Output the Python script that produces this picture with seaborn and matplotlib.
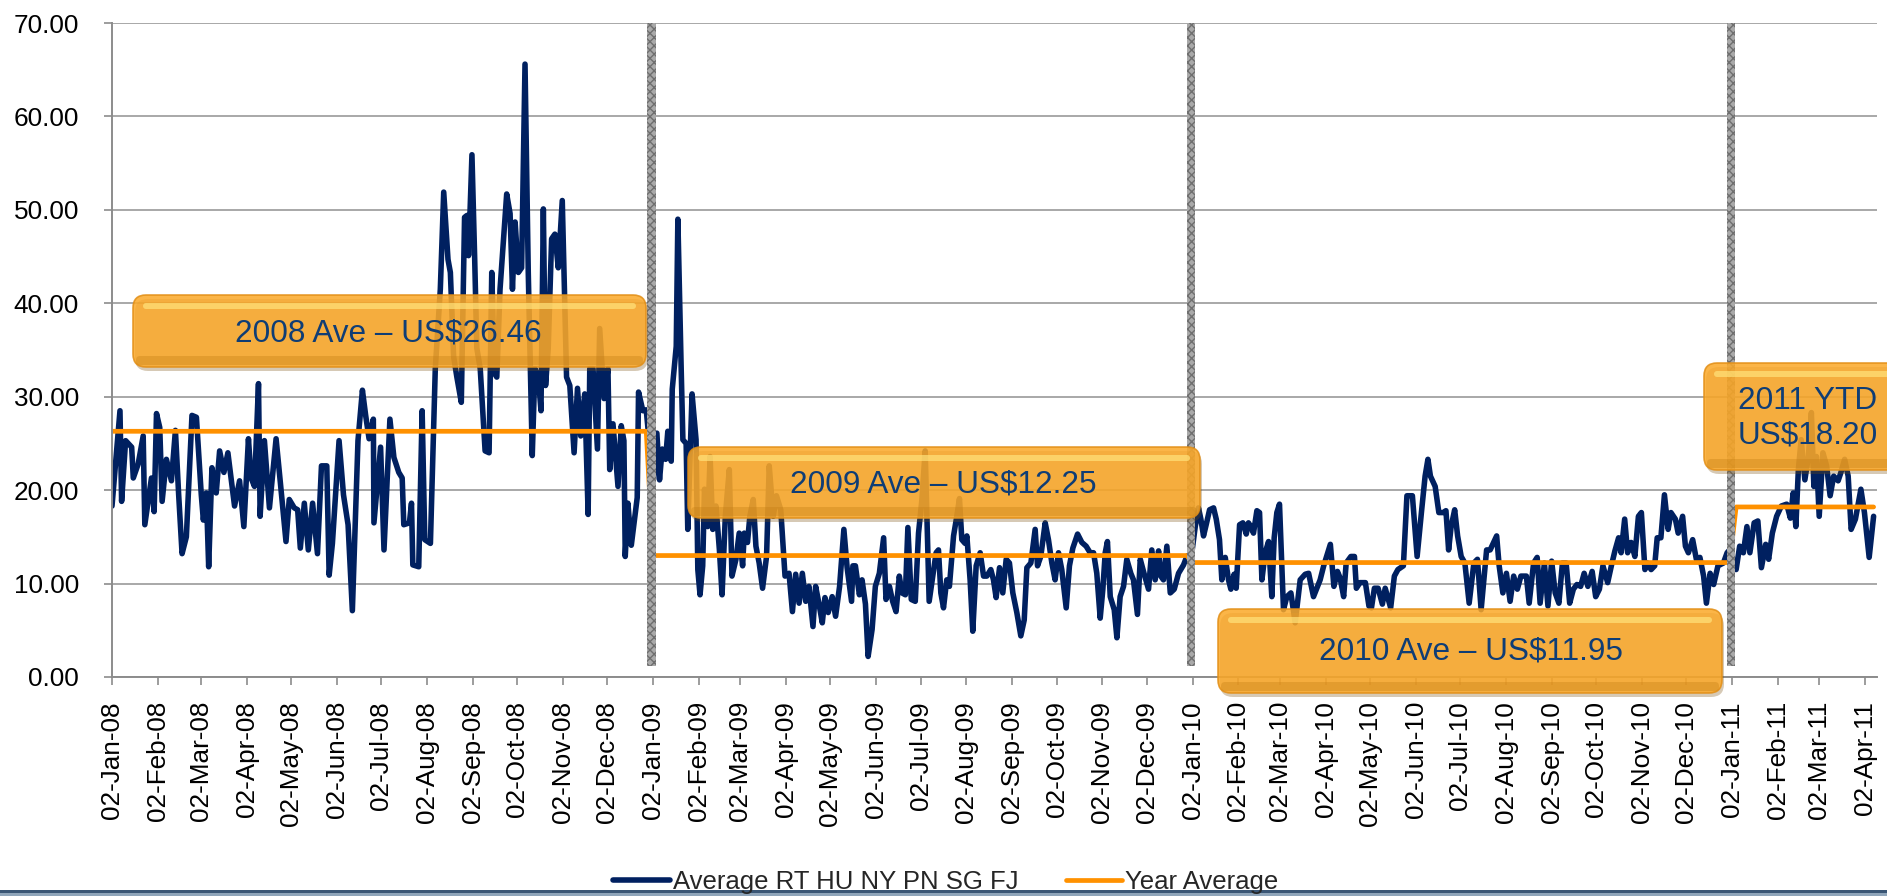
"""Average freight rate with yearly averages, 2008 to Apr 2011."""

import matplotlib
matplotlib.use('Agg')
import matplotlib.dates as mdates
import matplotlib.pyplot as plt
import numpy as np
import pandas as pd
import seaborn as sns
from matplotlib.patches import FancyBboxPatch, Rectangle
from matplotlib.transforms import Affine2D

START = pd.Timestamp('2008-01-02')

# days after 02-Jan-08 and rate (US$), one pair of lists per year
days_2008 = [0.0, 5.4, 6.5, 9.2, 13.3, 14.4, 17.7, 21.1, 22.2, 26.7, 28.5, 30.1, 32.3, 33.9,
             36.8, 40.2, 42.9, 45.1, 47.4, 50.3, 54.1, 57.1, 60.4, 61.8, 63.8, 65.4, 67.6,
             70.5, 72.8, 75.7, 78.4, 82.9, 86.3, 89.2, 92.3, 94.1, 96.4, 99.1, 100.2, 103.1,
             106.5, 111.0, 113.9, 117.7, 119.9, 123.3, 125.6, 127.4, 130.1, 132.8, 135.7,
             139.0, 141.7, 145.3, 146.9, 149.1, 153.6, 156.6, 159.7, 162.6, 166.4, 169.4,
             171.6, 173.9, 176.8, 177.2, 181.7, 184.0, 188.0, 190.7, 194.0, 196.3, 197.4,
             201.2, 202.6, 203.5, 207.5, 209.8, 211.6, 215.4, 218.7, 222.1, 224.4, 227.3,
             228.9, 231.1, 233.3, 236.3, 238.5, 240.1, 241.2, 243.5, 245.3, 246.8, 249.1,
             252.4, 255.1, 256.9, 258.7, 260.3, 262.5, 264.8, 267.0, 269.3, 270.9, 272.7,
             274.9, 277.1, 279.4, 281.6, 284.3, 286.1, 288.4, 290.2, 291.8, 293.3, 295.1,
             297.4, 299.6, 301.9, 304.6, 307.5, 309.7, 312.6, 314.9, 317.1, 319.8, 322.1,
             323.2, 325.4, 328.4, 329.9, 332.9, 335.5, 336.7, 338.9, 342.3, 344.5, 346.3,
             347.2, 349.0, 351.3, 355.3, 356.2, 359.1, 361.4]
rate_2008 = [18.3, 28.5, 18.8, 25.3, 24.6, 21.3, 22.8, 25.8, 16.3, 21.3, 17.7, 28.2, 26.7, 18.8,
             23.3, 21.0, 26.4, 19.5, 13.2, 15.0, 28.0, 27.8, 19.5, 16.8, 19.7, 11.8, 22.4,
             19.7, 24.2, 21.9, 24.0, 18.3, 21.0, 16.1, 25.5, 21.3, 20.4, 31.4, 17.2, 25.3,
             18.1, 25.5, 20.8, 14.5, 19.0, 18.1, 17.9, 13.8, 18.6, 13.6, 18.6,
             13.2, 22.6, 22.6, 10.9, 14.3, 25.3, 19.5, 16.3, 7.1, 25.3, 30.7,
             28.0, 25.5, 27.6, 16.5, 24.6, 13.6, 27.6, 23.5, 21.9, 21.3, 16.3,
             16.5, 18.6, 12.0, 11.8, 28.5, 14.7, 14.3, 33.0, 41.5, 51.9, 44.7,
             43.3, 34.3, 32.1, 29.4, 49.2, 49.4, 45.1, 55.9, 45.1, 35.2, 33.0,
             24.2, 24.0, 43.3, 32.5, 32.1, 41.5, 46.7, 51.7, 49.6, 41.5, 48.7,
             43.3, 43.8, 65.6, 43.3, 23.7, 33.0, 32.1, 28.5, 50.1, 31.2, 35.2,
             46.9, 47.4, 43.8, 51.0, 32.1, 31.2, 24.0, 30.9, 25.8, 30.3, 17.4,
             33.0, 33.0, 24.4, 37.3, 29.8, 33.0, 22.2, 27.1, 20.4, 26.9, 25.3,
             12.9, 18.6, 14.1, 19.2, 30.5, 28.5, 28.6]

days_2009 = [366.0, 368.6, 370.4, 372.2, 374.5, 376.0, 378.3, 379.0, 381.7, 382.8, 385.0, 386.2,
             388.4, 389.5, 392.4, 395.1, 396.3, 397.8, 399.6, 400.8, 403.0, 404.6, 406.4,
             408.6, 410.9, 412.7, 414.9, 417.6, 419.4, 422.1, 424.3, 426.6, 427.7, 429.9,
             431.5, 433.8, 435.6, 437.8, 440.1, 442.8, 444.6, 447.3, 449.5, 452.4, 455.3,
             458.0, 460.3, 462.5, 464.8, 467.0, 469.3, 471.5, 474.2, 476.0, 478.2, 480.5,
             482.3, 484.5, 487.2, 489.5, 492.2, 495.1, 497.3, 500.3, 501.2, 502.9, 505.6,
             507.4, 509.7, 511.5, 514.2, 516.4, 519.1, 522.0, 523.6, 525.9, 528.1, 530.4,
             532.6, 534.4, 536.7, 538.4, 540.7, 543.4, 545.6, 547.9, 550.1, 552.8, 557.5,
             559.1, 560.7, 562.5, 564.7, 566.5, 569.3, 571.5, 573.3, 574.9, 577.1, 578.3,
             580.5, 582.3, 584.6, 587.3, 589.6, 591.8, 594.5, 596.3, 598.1, 600.4, 602.6,
             604.9, 607.1, 609.4, 612.1, 614.8, 617.1, 618.9, 621.6, 624.5, 626.1, 628.3,
             631.3, 633.5, 635.8, 638.0, 640.3, 642.5, 645.5, 647.7, 650.0, 653.2, 656.1,
             659.0, 661.7, 664.0, 666.2, 668.5, 670.3, 671.9, 673.4, 675.3, 678.0, 679.8,
             682.0, 684.3, 686.5, 689.2, 691.0, 693.7, 695.6, 698.3, 701.2, 703.4, 705.7,
             708.0, 709.5, 711.3, 713.6, 715.9, 718.6, 721.5, 724.9, 727.1]
rate_2009 = [20.8, 26.1, 21.1, 24.4, 23.3, 26.3, 23.1, 30.8, 35.4, 49.0, 33.3, 25.4,
             25.0, 15.8, 30.3, 25.4, 11.5, 8.8, 11.9, 20.1, 16.1, 23.6, 15.8,
             18.3, 13.6, 8.8, 17.2, 22.2, 10.8, 12.6, 15.4, 11.9, 15.4, 14.4,
             17.2, 19.0, 14.0, 12.2, 9.5, 12.9, 22.6, 17.2, 19.4, 17.9, 10.8,
             11.1, 7.0, 11.0, 7.9, 11.1, 8.1, 9.7, 5.4, 9.7, 7.9, 5.8,
             8.5, 6.9, 8.6, 6.5, 9.7, 15.8, 11.7, 8.1, 11.9, 11.9, 8.8,
             10.4, 7.8, 2.2, 5.1, 9.7, 11.1, 14.9, 8.3, 9.7, 8.1, 7.0,
             10.8, 9.0, 8.8, 16.0, 8.3, 8.1, 15.4, 19.0, 24.2, 8.1, 13.3,
             13.6, 9.0, 7.4, 10.4, 9.7, 15.1, 17.2, 19.1, 14.7, 14.3, 15.1,
             10.4, 4.9, 11.9, 13.3, 10.8, 10.8, 11.5, 10.4, 8.5, 11.7, 9.0,
             12.6, 12.2, 9.0, 6.9, 4.4, 6.1, 11.7, 12.2, 15.8, 11.9, 12.9,
             16.5, 14.7, 12.2, 10.4, 13.3, 11.5, 7.4, 11.9, 13.8, 15.3, 14.4,
             14.0, 13.3, 13.3, 11.1, 6.3, 9.4, 13.3, 14.5, 8.6, 7.2, 4.2,
             8.6, 9.7, 12.6, 11.1, 10.4, 6.7, 12.6, 11.0, 9.4, 13.6, 10.4,
             13.5, 10.8, 10.4, 14.0, 9.0, 9.4, 11.1, 12.0, 12.9]

days_2010 = [730.5, 732.8, 735.0, 736.6, 738.4, 740.2, 742.5, 745.2, 747.0, 749.2, 750.8, 753.1,
             755.3, 756.9, 759.1, 760.5, 762.8, 765.0, 767.3, 768.8, 770.4, 772.2, 774.5,
             776.3, 777.9, 780.1, 782.4, 784.6, 786.2, 788.0, 789.8, 792.5, 794.8, 797.5,
             800.4, 803.8, 807.2, 809.5, 812.8, 817.3, 819.7, 824.2, 826.6, 829.0, 830.8,
             833.2, 834.9, 838.1, 840.5, 841.8, 844.2, 847.9, 850.3, 852.0, 854.0, 856.5,
             859.4, 861.3, 865.0, 867.5, 869.9, 873.6, 876.0, 879.7, 882.9, 885.8, 888.3,
             890.2, 891.9, 895.1, 897.6, 900.5, 902.4, 904.2, 905.9, 908.3, 910.3, 912.7,
             915.2, 918.1, 921.3, 923.7, 926.2, 929.9, 932.3, 936.7, 938.4, 940.9, 943.3,
             945.8, 948.2, 950.7, 953.1, 956.8, 958.7, 961.7, 964.1, 966.1, 969.0, 971.4,
             973.9, 976.3, 978.8, 981.2, 983.7, 986.1, 988.6, 991.0, 993.5, 995.9, 998.4,
             1001.3, 1003.7, 1006.2, 1008.6, 1011.8, 1014.3, 1016.7, 1019.2, 1020.9, 1023.3,
             1025.3, 1027.7, 1030.2, 1032.6, 1034.6, 1037.0, 1038.7, 1041.2, 1043.6, 1045.3,
             1047.8, 1050.2, 1052.7, 1054.6, 1057.6, 1059.5, 1062.5, 1064.4, 1066.4, 1069.3,
             1071.8, 1074.2, 1076.7, 1078.6, 1081.1, 1083.5, 1086.4, 1090.1, 1092.6, 1094.3]
rate_2010 = [13.3, 16.1, 18.1, 16.9, 15.1, 16.3, 17.9, 18.1, 16.9, 14.7, 10.4, 12.8,
             10.4, 9.4, 11.0, 9.5, 16.3, 16.5, 15.3, 16.5, 16.1, 15.4, 17.8,
             17.6, 10.4, 13.3, 14.5, 8.6, 14.9, 17.6, 18.5, 7.2, 8.6, 9.0,
             5.8, 10.4, 11.0, 11.1, 8.6, 10.4, 11.9, 14.2, 9.7, 11.3, 10.6,
             8.6, 12.2, 12.9, 12.9, 9.5, 10.1, 10.1, 7.6, 7.4, 9.5, 9.5,
             7.8, 9.5, 7.4, 10.8, 11.5, 11.9, 19.4, 19.4, 12.9, 17.6, 21.5,
             23.3, 21.5, 20.4, 17.6, 17.6, 17.8, 13.6, 16.1, 17.9, 15.1, 12.9,
             12.2, 7.9, 12.2, 12.6, 7.2, 13.6, 13.6, 15.1, 11.9, 9.0, 11.1,
             8.1, 10.8, 9.4, 10.8, 10.8, 7.9, 12.2, 12.8, 7.9, 12.2, 7.6,
             12.4, 9.0, 7.9, 12.2, 12.2, 7.9, 9.4, 9.9, 9.7, 11.1, 9.7,
             11.3, 8.6, 9.4, 11.9, 10.1, 11.9, 13.5, 14.9, 13.3, 16.9,
             13.3, 14.4, 12.9, 17.2, 17.6, 11.5, 12.2, 11.5, 11.9, 14.9,
             14.9, 19.5, 15.8, 17.6, 16.9, 15.4, 17.2, 14.0, 13.3, 14.7,
             12.6, 12.8, 10.8, 7.9, 11.1, 9.9, 11.9, 12.2, 13.3, 13.6]

days_2011 = [1098.7, 1101.1, 1103.6, 1106.0, 1108.0, 1110.9, 1113.4, 1115.8, 1118.7, 1120.7,
             1123.2, 1126.1, 1129.3, 1132.9, 1135.4, 1137.3, 1139.1, 1140.8, 1142.7, 1145.2,
             1147.6, 1149.6, 1151.3, 1153.0, 1154.9, 1157.4, 1159.9, 1162.3, 1164.7, 1167.7,
             1169.6, 1172.1, 1174.5, 1176.5, 1179.4, 1183.1, 1185.5, 1188.7, 1191.7]
rate_2011 = [11.5, 14.0, 13.3, 16.1, 13.3, 16.5, 16.7, 11.7, 14.2, 12.6,
             15.4, 17.2, 18.3, 18.5, 17.0, 19.7, 16.1, 22.2, 25.4, 21.1,
             23.6, 28.3, 20.4, 23.6, 17.2, 24.0, 22.6, 19.4, 21.5, 21.0,
             21.9, 23.3, 21.5, 15.8, 16.9, 20.1, 17.6, 12.8, 17.2]

years = [2008, 2009, 2010, 2011]
year_avg = [26.3, 13.0, 12.25, 18.2]
callouts = ['2008 Ave – US$26.46', '2009 Ave – US$12.25', '2010 Ave – US$11.95', '2011 YTD\nUS$18.20']

NAVY = '#002060'
ORANGE = '#FF9100'
GREY = '#8c8c8c'
TEXT_BLUE = '#0f3d75'


def _main():
    sns.set_style('white')
    plt.rcParams['font.family'] = ['Liberation Sans', 'DejaVu Sans']

    all_days = [days_2008, days_2009, days_2010, days_2011]
    all_rates = [rate_2008, rate_2009, rate_2010, rate_2011]
    df = pd.DataFrame({
        'day': np.concatenate(all_days),
        'rate': np.concatenate(all_rates),
        'avg': np.repeat(year_avg, [len(d) for d in all_days]),
    })
    df['date'] = START + pd.to_timedelta(df['day'], unit='D')

    fig = plt.figure(figsize=(18.87, 8.96), dpi=100)
    ax = fig.add_axes([112 / 1887, 1 - 677 / 896, (1877 - 112) / 1887, (677 - 23) / 896])

    sns.lineplot(data=df, x='date', y='rate', ax=ax, color=NAVY, lw=4.0, estimator=None,
                 sort=False, label='Average RT HU NY PN SG FJ', solid_joinstyle='round', zorder=2)
    sns.lineplot(data=df, x='date', y='avg', ax=ax, color=ORANGE, lw=3.4, estimator=None,
                 sort=False, label='Year Average', zorder=2.5)

    # textured separators at each new year
    for yr in years[1:]:
        c = mdates.date2num(pd.Timestamp(f'{yr}-01-01'))
        ax.axvspan(c - 2.8, c + 2.8, ymin=0.017, ymax=1.0, facecolor='#a9a9a9',
                   edgecolor='#6f6f6f', hatch='xxxx', lw=0, zorder=3)

    ax.set_ylim(0, 70)
    ax.set_xlim(mdates.date2num(START), mdates.date2num(START + pd.Timedelta(days=1194)))
    ax.set_yticks(np.arange(0, 71, 10))
    ax.yaxis.set_major_formatter(plt.FormatStrFormatter('%.2f'))
    ax.xaxis.set_major_locator(mdates.MonthLocator(bymonthday=2))
    ax.xaxis.set_major_formatter(mdates.DateFormatter('%d-%b-%y'))
    ax.set_xlabel('')
    ax.set_ylabel('')

    ax.grid(axis='y', color='#999999', lw=1.2)
    ax.grid(axis='x', visible=False)
    for side in ['top', 'right']:
        ax.spines[side].set_visible(False)
    for side in ['left', 'bottom']:
        ax.spines[side].set_color(GREY)
        ax.spines[side].set_linewidth(1.4)
    ax.tick_params(axis='both', length=5.8, width=1.2, color=GREY, labelsize=18.8,
                   labelcolor='black', direction='out', left=True, bottom=True)
    ax.tick_params(axis='y', pad=18)
    ax.tick_params(axis='x', pad=11.5, labelrotation=90)

    handles, labels = ax.get_legend_handles_labels()
    ax.get_legend().remove()
    fig.legend(handles, labels, loc='center', bbox_to_anchor=(0.5013, 0.0156), ncol=2,
               frameon=False, handlelength=2.2, handletextpad=0.12, columnspacing=1.85,
               prop={'family': ['Liberation Sans', 'DejaVu Sans'], 'size': 18.5})

    # call-out boxes, placed in pixels from the top-left corner
    px = Affine2D().scale(1 / 100) + fig.dpi_scale_trans
    H = 896
    boxes = [(133, 295, 646, 367), (688, 447, 1200, 518), (1218, 609, 1722, 693), (1704, 363, 1910, 470)]
    anchors = [(388, 333, 'center'), (943, 484, 'center'), (1471, 652, 'center'), (1738, 418, 'left')]
    for (x0, y0, x1, y1), (tx, ty, ha), label in zip(boxes, anchors, callouts):
        w, h = x1 - x0, y1 - y0
        fig.add_artist(FancyBboxPatch((x0 + 2, H - y1 - 4), w, h, boxstyle='round,pad=0,rounding_size=13',
                                      transform=px, facecolor='#7a4f0c', edgecolor='none', alpha=0.3, zorder=4))
        fig.add_artist(FancyBboxPatch((x0, H - y1), w, h, boxstyle='round,pad=0,rounding_size=13',
                                      transform=px, facecolor='#FBA92A', edgecolor='#E28F17', lw=1.2,
                                      alpha=0.86, zorder=5))
        fig.add_artist(FancyBboxPatch((x0 + 3, H - y1 + 2), w - 6, 9, boxstyle='round,pad=0,rounding_size=4',
                                      transform=px, facecolor='#C47D12', edgecolor='none', alpha=0.35, zorder=5.1))
        fig.add_artist(FancyBboxPatch((x0 + 10, H - y0 - 14), w - 20, 6, boxstyle='round,pad=0,rounding_size=3',
                                      transform=px, facecolor='#FFE27A', edgecolor='none', alpha=0.7, zorder=5.1))
        fig.text(tx / 1887, 1 - ty / H, label, ha=ha, va='center', fontsize=22.7, color=TEXT_BLUE,
                 linespacing=1.2, zorder=6)

    # slide footer band
    fig.add_artist(Rectangle((0, 0), 1887, 3, transform=px, facecolor='#8fa5ba', edgecolor='none', zorder=1))
    fig.add_artist(Rectangle((0, 3), 1887, 3, transform=px, facecolor='#3a5675', edgecolor='none', zorder=1))

    fig.savefig('out.png', dpi=100)
    plt.close(fig)


if __name__ == '__main__':
    _main()
